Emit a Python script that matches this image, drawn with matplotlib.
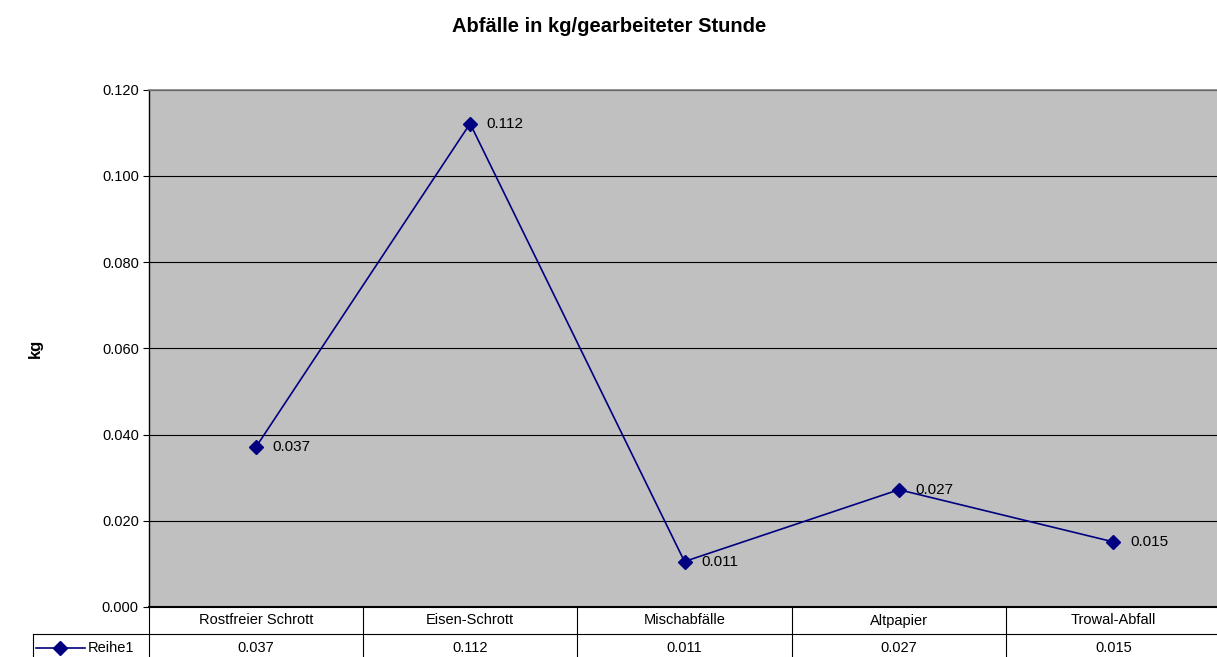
import matplotlib
matplotlib.use("Agg")
import matplotlib.pyplot as plt
import numpy as np

plt.rcParams["font.family"] = ["Liberation Sans", "DejaVu Sans"]

# data
categories = ["Rostfreier Schrott", "Eisen-Schrott", "Mischabfälle", "Altpapier", "Trowal-Abfall"]
values = [0.0370, 0.1121, 0.01055, 0.0272, 0.0151]
series_name = "Reihe1"
title = "Abfälle in kg/gearbeiteter Stunde"
y_label = "kg"
y_ticks = [0.000, 0.020, 0.040, 0.060, 0.080, 0.100, 0.120]

LINE_COLOR = "#000080"
PLOT_BG = "#C0C0C0"

W, H = 1217, 657
fig = plt.figure(figsize=(W / 100, H / 100), dpi=100)

# plot area in pixels
left_px, right_px, top_px, bottom_px = 148.5, 1220.5, 89.5, 607.0
ax = fig.add_axes([left_px / W, 1 - bottom_px / H,
                   (right_px - left_px) / W, (bottom_px - top_px) / H])
ax.set_facecolor(PLOT_BG)

x = np.arange(len(categories))
ax.plot(x, values, color=LINE_COLOR, lw=1.2, marker="D", ms=7.5, mec=LINE_COLOR, mfc=LINE_COLOR, zorder=3)
for xi, v in zip(x, values):
    ax.annotate(f"{v:.3f}", (xi, v), xytext=(12, 0), textcoords="offset points",
                ha="left", va="center", fontsize=11, color="black", zorder=4)

ax.set_xlim(-0.5, len(categories) - 0.5)
ax.set_ylim(y_ticks[0], y_ticks[-1])
ax.set_yticks(y_ticks)
ax.set_yticklabels([f"{t:.3f}" for t in y_ticks], fontsize=10.5)
ax.set_xticks([])
ax.tick_params(axis="y", direction="out", length=4, width=0.8, pad=3)
ax.grid(axis="y", color="black", lw=0.8)
ax.set_axisbelow(True)

for side in ["top", "right"]:
    ax.spines[side].set_color("#808080")
    ax.spines[side].set_linewidth(1.2)
ax.spines["left"].set_color("black")
ax.spines["left"].set_linewidth(1.0)
ax.spines["bottom"].set_color("black")
ax.spines["bottom"].set_linewidth(1.5)

# data table under the plot area
plot_h = bottom_px - top_px
col_w = (right_px - left_px) / len(categories)
row_h = 27.0 / plot_h
trans = ax.get_xaxis_transform()
line_kw = dict(color="black", lw=0.8, transform=trans, clip_on=False)

leg_left = -0.5 - (left_px - 33) / col_w
for i in range(len(categories) + 1):
    ax.plot([i - 0.5, i - 0.5], [0, -2.2 * row_h], **line_kw)
ax.plot([leg_left, len(categories) - 0.5], [-row_h, -row_h], **line_kw)
ax.plot([leg_left, leg_left], [-row_h, -2.2 * row_h], **line_kw)

for i, (cat, v) in enumerate(zip(categories, values)):
    ax.text(i, -0.5 * row_h, cat, ha="center", va="center", fontsize=10.5, transform=trans)
    ax.text(i, -1.5 * row_h, f"{v:.3f}", ha="center", va="center", fontsize=10.5, transform=trans)

# legend key inside the table
key_x0 = -0.5 - (left_px - 36) / col_w
key_x1 = -0.5 - (left_px - 85) / col_w
ax.plot([key_x0, key_x1], [-1.5 * row_h] * 2, color=LINE_COLOR, lw=1.2, transform=trans, clip_on=False)
ax.plot([(key_x0 + key_x1) / 2], [-1.5 * row_h], marker="D", ms=7, color=LINE_COLOR,
        transform=trans, clip_on=False)
ax.text(-0.5 - (left_px - 88) / col_w, -1.5 * row_h, series_name, ha="left", va="center",
        fontsize=10.5, transform=trans)

fig.text(609 / W, 1 - 27 / H, title, ha="center", va="center", fontsize=14.5, fontweight="bold")
fig.text(35 / W, 1 - 348 / H, y_label, ha="center", va="center", rotation=90,
         fontsize=12, fontweight="bold")

fig.savefig("out.png", dpi=100)
